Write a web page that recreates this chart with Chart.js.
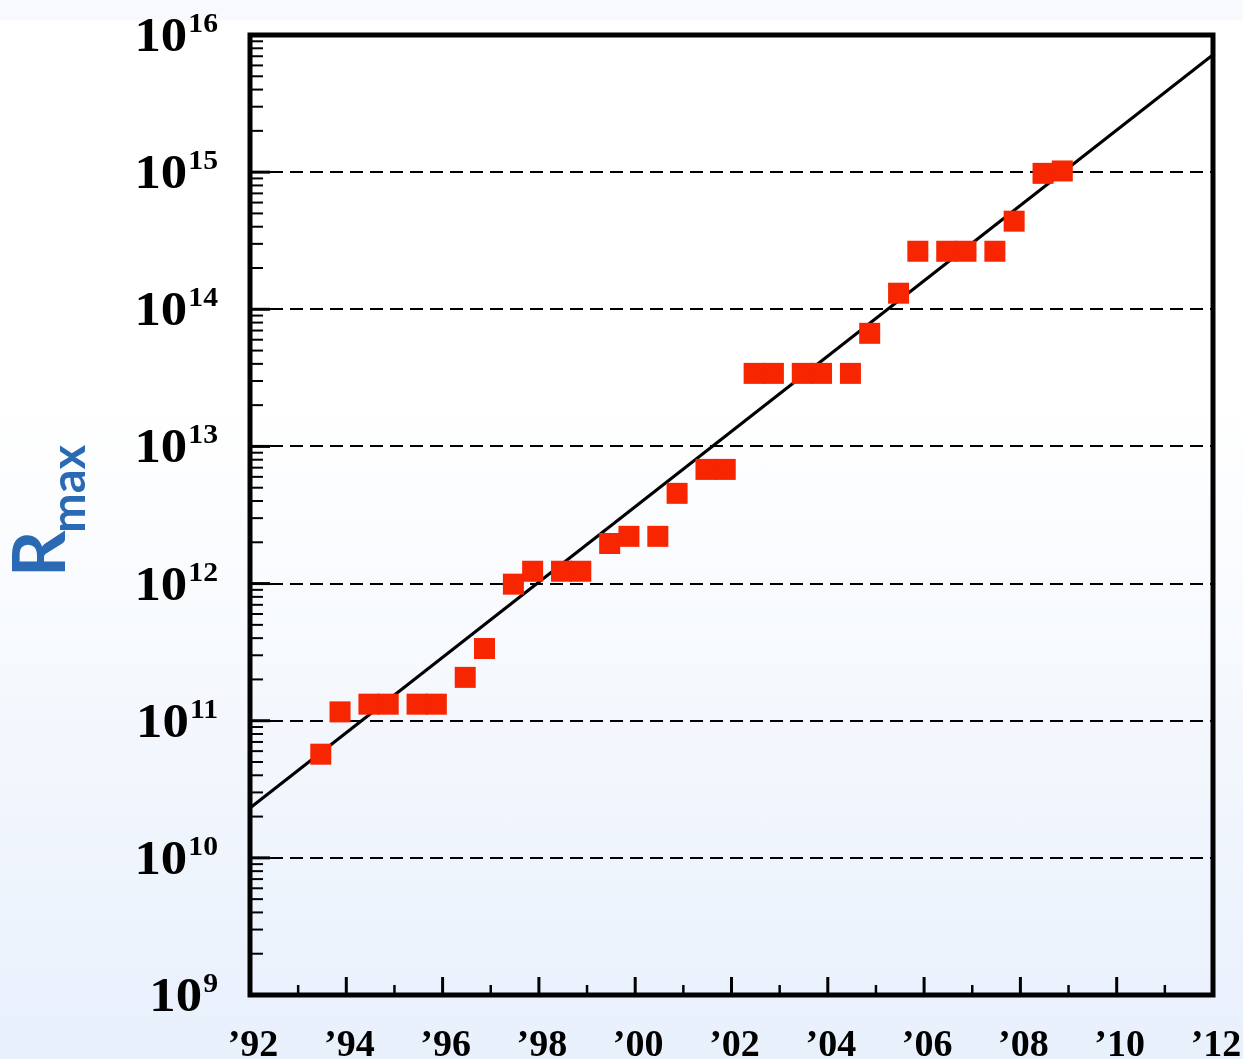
<!DOCTYPE html>
<html>
<head>
<meta charset="utf-8">
<script src="https://cdn.jsdelivr.net/npm/chart.js@4.4.1/dist/chart.umd.min.js"></script>
<style>
  html, body { margin: 0; padding: 0; }
  body {
    width: 1243px; height: 1059px; overflow: hidden;
    background: linear-gradient(to bottom, #f8f9fd 0px, #f8f9fd 20px, #ffffff 21px, #ffffff 400px, #e8f0fc 1059px);
  }
  canvas { display: block; }
</style>
</head>
<body>
<canvas id="rmax" width="1243" height="1059"></canvas>
<script>
// list dates (June ~ .47, November ~ .87) and Rmax values
const dates = [1993.47, 1993.87, 1994.47, 1994.87, 1995.47, 1995.87, 1996.47, 1996.87,
               1997.47, 1997.87, 1998.47, 1998.87, 1999.47, 1999.87, 2000.47, 2000.87,
               2001.47, 2001.87, 2002.47, 2002.87, 2003.47, 2003.87, 2004.47, 2004.87,
               2005.47, 2005.87, 2006.47, 2006.87, 2007.47, 2007.87, 2008.47, 2008.87];
const rmax = [5.7e10, 1.16e11, 1.32e11, 1.32e11, 1.32e11, 1.32e11, 2.07e11, 3.36e11,
              0.99e12, 1.23e12, 1.23e12, 1.23e12, 1.96e12, 2.21e12, 2.21e12, 4.55e12,
              6.8e12, 6.8e12, 3.41e13, 3.41e13, 3.41e13, 3.41e13, 3.41e13, 6.68e13,
              1.31e14, 2.65e14, 2.65e14, 2.65e14, 2.65e14, 4.39e14, 0.98e15, 1.02e15];

// straight trend line (exponential fit)
const fitYears = [1992, 2012];
const fitRmax = [2.31e10, 7.18e15];

// axes
const yExponents = [9, 10, 11, 12, 13, 14, 15, 16];
const yMinor = [2, 3, 4, 5, 6, 7, 8, 9];
const xMajorYears = [1992, 1994, 1996, 1998, 2000, 2002, 2004, 2006, 2008, 2010, 2012];
const xLabels = ['\u201992', '\u201994', '\u201996', '\u201998', '\u201900', '\u201902',
                 '\u201904', '\u201906', '\u201908', '\u201910', '\u201912'];
const xMinorYears = [1993, 1995, 1997, 1999, 2001, 2003, 2005, 2007, 2009, 2011];

const serif = '"Liberation Serif", "Times New Roman", serif';

// dashed grid, inward ticks, thick frame, labels with exponents
const frame = {
  id: 'frame',
  beforeDatasetsDraw(chart) {
    const {ctx, chartArea: a, scales: {y}} = chart;
    ctx.save();
    ctx.strokeStyle = '#000';
    ctx.lineWidth = 2;
    ctx.setLineDash([13, 7]);
    yExponents.slice(1, -1).forEach(e => {
      const py = Math.round(y.getPixelForValue(Math.pow(10, e)));
      ctx.beginPath();
      ctx.moveTo(a.left + 20, py);
      ctx.lineTo(a.right, py);
      ctx.stroke();
    });
    ctx.restore();
  },
  afterDatasetsDraw(chart) {
    const {ctx, chartArea: a, scales: {x, y}} = chart;
    ctx.save();
    ctx.strokeStyle = '#000';
    ctx.fillStyle = '#000';

    // left ticks
    yExponents.forEach(e => {
      const base = Math.pow(10, e);
      let py = y.getPixelForValue(base);
      ctx.lineWidth = 3;
      ctx.beginPath();
      ctx.moveTo(a.left, py);
      ctx.lineTo(a.left + 20, py);
      ctx.stroke();
      if (e === yExponents[yExponents.length - 1]) return;
      ctx.lineWidth = 2;
      yMinor.forEach(m => {
        py = y.getPixelForValue(m * base);
        ctx.beginPath();
        ctx.moveTo(a.left, py);
        ctx.lineTo(a.left + 13, py);
        ctx.stroke();
      });
    });

    // bottom ticks
    ctx.lineWidth = 3;
    xMajorYears.forEach(yr => {
      const px = x.getPixelForValue(yr);
      ctx.beginPath();
      ctx.moveTo(px, a.bottom);
      ctx.lineTo(px, a.bottom - 18);
      ctx.stroke();
    });
    ctx.lineWidth = 2.5;
    xMinorYears.forEach(yr => {
      const px = x.getPixelForValue(yr);
      ctx.beginPath();
      ctx.moveTo(px, a.bottom);
      ctx.lineTo(px, a.bottom - 10);
      ctx.stroke();
    });

    // frame
    ctx.lineWidth = 5;
    ctx.strokeRect(a.left, a.top, a.right - a.left, a.bottom - a.top);

    // y labels 10^n (a bit wider than the serif font gives)
    ctx.textAlign = 'right';
    ctx.textBaseline = 'alphabetic';
    yExponents.forEach(e => {
      const py = y.getPixelForValue(Math.pow(10, e));
      ctx.save();
      ctx.translate(218, 0);
      ctx.scale(1.1, 1);
      ctx.font = 'bold 27px ' + serif;
      const sup = String(e);
      ctx.fillText(sup, 0, py - 3);
      const w = ctx.measureText(sup).width;
      ctx.font = 'bold 48px ' + serif;
      ctx.fillText('10', -w - 1, py + 16);
      ctx.restore();
    });

    // x labels
    ctx.textAlign = 'center';
    ctx.font = 'bold 38px ' + serif;
    xMajorYears.forEach((yr, i) => {
      ctx.fillText(xLabels[i], x.getPixelForValue(yr) + 3, 1056);
    });

    // axis title R_max
    ctx.fillStyle = '#2a6ab4';
    ctx.translate(65, 577);
    ctx.rotate(-Math.PI / 2);
    ctx.textAlign = 'left';
    ctx.font = 'bold 72px Lato, "Open Sans", sans-serif';
    ctx.fillText('R', 0, 0);
    const rw = ctx.measureText('R').width;
    ctx.font = 'bold 47px Lato, "Open Sans", sans-serif';
    ctx.fillText('max', rw - 2, 20);
    ctx.restore();
  }
};

new Chart(document.getElementById('rmax'), {
  type: 'scatter',
  data: {
    datasets: [
      {
        label: 'Rmax',
        data: dates.map((d, i) => ({x: d, y: rmax[i]})),
        pointStyle: 'rect',
        pointRadius: 14.85,
        pointBorderWidth: 0,
        backgroundColor: '#f72500',
        borderColor: '#f72500',
        showLine: false
      },
      {
        label: 'fit',
        data: fitYears.map((d, i) => ({x: d, y: fitRmax[i]})),
        showLine: true,
        borderColor: '#000',
        borderWidth: 3,
        pointRadius: 0
      }
    ]
  },
  options: {
    responsive: false,
    animation: false,
    layout: {padding: {left: 250, right: 30, top: 35, bottom: 64}},
    plugins: {legend: {display: false}, tooltip: {enabled: false}},
    scales: {
      x: {type: 'linear', min: 1992, max: 2012, display: false},
      y: {type: 'logarithmic', min: 1e9, max: 1e16, display: false}
    }
  },
  plugins: [frame]
});
</script>
</body>
</html>
